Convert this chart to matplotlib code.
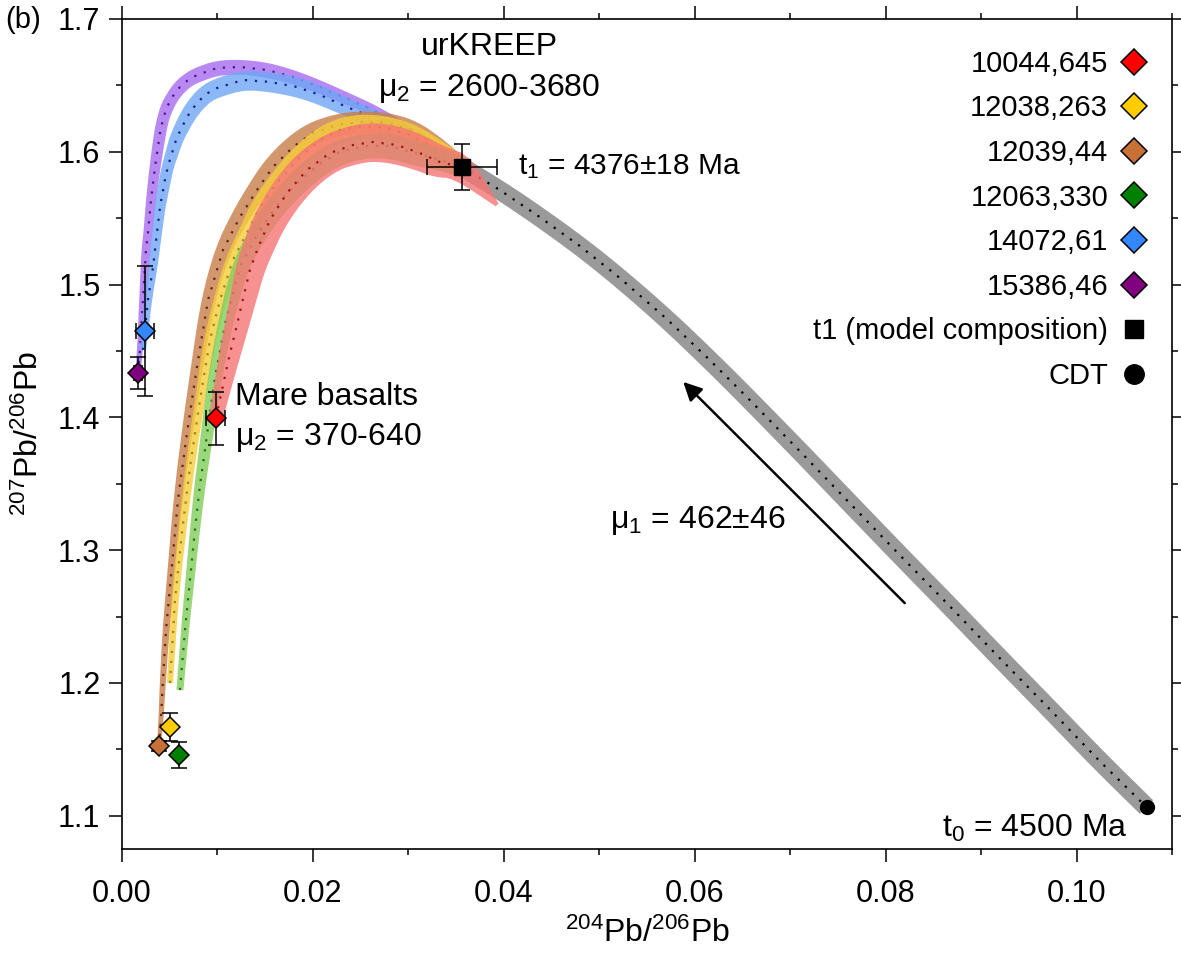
import numpy as np
import matplotlib
matplotlib.use("Agg")
import matplotlib.pyplot as plt
from matplotlib.lines import Line2D
from matplotlib.ticker import MultipleLocator

plt.rcParams["font.family"] = ["Liberation Sans", "DejaVu Sans"]
plt.rcParams["mathtext.fontset"] = "custom"
plt.rcParams["mathtext.rm"] = "Liberation Sans"
plt.rcParams["mathtext.it"] = "Liberation Sans:italic"
plt.rcParams["mathtext.default"] = "regular"

# --- measured samples ---
sample_names = ["10044,645", "12038,263", "12039,44", "12063,330", "14072,61", "15386,46"]
sample_x = [0.00984, 0.00503, 0.00387, 0.00597, 0.00241, 0.00168]
sample_y = [1.3995, 1.1669, 1.1526, 1.1458, 1.4651, 1.4334]
sample_xerr = [0.0010, 0.0, 0.0, 0.0, 0.00094, 0.0004]
sample_yerr = [0.020, 0.0105, 0.004, 0.0095, 0.049, 0.012]
sample_colors = ["#ff0000", "#ffcc00", "#c87137", "#008000", "#3388ff", "#800080"]

# model points
t1_x, t1_y = 0.0356, 1.5886
t1_xerr, t1_yerr = 0.0037, 0.0173
cdt_x, cdt_y = 0.10733, 1.1066

# first stage (t1 -> CDT)
x_stage1 = [0.03560, 0.03958, 0.04346, 0.04796, 0.05215, 0.05707, 0.06157, 0.06545, 0.07099, 0.07623,
            0.08147, 0.08670, 0.09194, 0.09717, 0.10241, 0.10733]
y_stage1 = [1.5886, 1.5712, 1.5524, 1.5291, 1.5050, 1.4741, 1.4432, 1.4154, 1.3747, 1.3355,
            1.2964, 1.2580, 1.2188, 1.1804, 1.1413, 1.1066]

# second stage curves (sample end -> t1)
x_15386 = [0.00168, 0.00188, 0.00209, 0.00230, 0.00251, 0.00272, 0.00304, 0.00346, 0.00398, 0.00430,
           0.00471, 0.00534, 0.00607, 0.00691, 0.00785, 0.00995, 0.01236, 0.01518, 0.01791, 0.02073,
           0.02387, 0.02628, 0.02911, 0.03225, 0.03560]
y_15386 = [1.4334, 1.4508, 1.4756, 1.5012, 1.5261, 1.5389, 1.5637, 1.5886, 1.6142, 1.6247,
           1.6337, 1.6420, 1.6488, 1.6540, 1.6578, 1.6631, 1.6639, 1.6616, 1.6563, 1.6488,
           1.6390, 1.6315, 1.6202, 1.6051, 1.5886]

x_14072 = [0.00220, 0.00241, 0.00272, 0.00325, 0.00366, 0.00398, 0.00450, 0.00482, 0.00524, 0.00566,
           0.00628, 0.00702, 0.00785, 0.00880, 0.00995, 0.01267, 0.01550, 0.01832, 0.02073, 0.02356,
           0.02565, 0.02911, 0.03225, 0.03560]
y_14072 = [1.4508, 1.4651, 1.4884, 1.5133, 1.5389, 1.5584, 1.5788, 1.5893, 1.5991, 1.6089,
           1.6187, 1.6285, 1.6367, 1.6435, 1.6480, 1.6541, 1.6526, 1.6488, 1.6428, 1.6337,
           1.6277, 1.6164, 1.6036, 1.5886]

x_12039 = [0.00387, 0.00408, 0.00429, 0.00461, 0.00524, 0.00586, 0.00681, 0.00785, 0.00901, 0.01058, 0.01236,
           0.01414, 0.01581, 0.01791, 0.02000, 0.02251, 0.02492, 0.02775, 0.03047, 0.03330, 0.03560]
y_12039 = [1.1526, 1.1721, 1.2023, 1.2399, 1.2889, 1.3378, 1.3883, 1.4380, 1.4884, 1.5261, 1.5509,
           1.5712, 1.5886, 1.6036, 1.6142, 1.6202, 1.6224, 1.6217, 1.6164, 1.6029, 1.5886]

x_12038 = [0.00503, 0.00555, 0.00628, 0.00712, 0.00817, 0.00921, 0.01026, 0.01162, 0.01309, 0.01445, 0.01623,
           0.01832, 0.02073, 0.02283, 0.02513, 0.02775, 0.03047, 0.03330, 0.03560]
y_12038 = [1.2000, 1.2625, 1.3130, 1.3627, 1.4131, 1.4583, 1.4884, 1.5185, 1.5389, 1.5584, 1.5765,
           1.5938, 1.6089, 1.6164, 1.6194, 1.6179, 1.6119, 1.5998, 1.5886]

x_12063 = [0.00607, 0.00660, 0.00712, 0.00764, 0.00817, 0.00869, 0.00911, 0.00974, 0.01089, 0.01236, 0.01424,
           0.01602, 0.01812, 0.02052, 0.02283, 0.02545, 0.02806, 0.03099, 0.03351, 0.03560]
y_12063 = [1.1947, 1.2399, 1.2776, 1.3152, 1.3491, 1.3755, 1.3980, 1.4304, 1.4733, 1.5133, 1.5388,
           1.5576, 1.5750, 1.5901, 1.5999, 1.6044, 1.6044, 1.5984, 1.5938, 1.5886]

x_10044 = [0.00984, 0.01047, 0.01120, 0.01204, 0.01277, 0.01340, 0.01424, 0.01550, 0.01728, 0.01937, 0.02178,
           0.02419, 0.02628, 0.02880, 0.03120, 0.03330, 0.03560, 0.03930]
y_10044 = [1.3995, 1.4206, 1.4447, 1.4696, 1.4922, 1.5110, 1.5276, 1.5486, 1.5690, 1.5863, 1.5991,
           1.6051, 1.6074, 1.6051, 1.5991, 1.5923, 1.5886, 1.5600]

# band widths in pixels (style)
w_stage1 = [19] * len(x_stage1)
w_15386 = [5, 6, 7, 8, 9, 9, 10, 11, 12, 12, 13, 13, 14, 14, 15, 15, 15, 15, 14, 13, 12, 11, 10, 9, 8]
w_14072 = [6, 7, 8, 9, 10, 11, 12, 12, 13, 14, 15, 16, 17, 18, 19, 20, 20, 20, 19, 18, 17, 15, 13, 11]
w_12039 = [4, 5, 6, 7, 8, 9, 11, 12, 14, 16, 18, 20, 21, 22, 22, 22, 22, 21, 20, 18, 16]
w_12038 = [6, 7, 8, 9, 10, 12, 13, 15, 17, 19, 20, 22, 23, 24, 24, 24, 23, 21, 19]
w_12063 = [7, 8, 9, 10, 11, 12, 13, 14, 15, 17, 19, 21, 23, 24, 25, 25, 25, 24, 22, 20]
w_10044 = [14, 17, 21, 24, 27, 29, 31, 33, 35, 37, 38, 39, 39, 38, 35, 32, 28, 4]


def soften(p, rounds=2):
    # rounds off the corners of a ribbon edge (drawing only)
    for _ in range(rounds):
        a = 0.75 * p[:-1] + 0.25 * p[1:]
        b = 0.25 * p[:-1] + 0.75 * p[1:]
        mid = np.empty((2 * len(a), 2))
        mid[0::2] = a
        mid[1::2] = b
        p = np.vstack([p[:1], mid, p[-1:]])
    return p


def draw_band(ax, xs, ys, widths, color, alpha, zorder):
    # variable width ribbon built in pixel space around the centre line
    pts = ax.transData.transform(np.column_stack([xs, ys]))
    tang = np.gradient(pts, axis=0)
    norm = np.column_stack([-tang[:, 1], tang[:, 0]])
    norm /= np.linalg.norm(norm, axis=1)[:, None]
    half = np.asarray(widths, dtype=float)[:, None] / 2
    upper = soften(pts + norm * half)
    lower = soften(pts - norm * half)
    poly = np.vstack([upper, lower[::-1]])
    poly = ax.transData.inverted().transform(poly)
    ax.fill(poly[:, 0], poly[:, 1], color=color, alpha=alpha, lw=0, zorder=zorder)


fig = plt.figure(figsize=(11.81, 9.6), dpi=100)
ax = fig.add_axes([122 / 1181, 111 / 960, 1050 / 1181, 830 / 960])
ax.set_xlim(0, 0.11)
ax.set_ylim(1.075, 1.70)

curves = [
    (x_stage1, y_stage1, w_stage1, "#9a9a9a", 1.0, "black", None),
    (x_15386, y_15386, w_15386, "#a66cf0", 0.8, "#4b1a85", None),
    (x_14072, y_14072, w_14072, "#6fa7f6", 0.8, "#12238f", None),
    (x_12039, y_12039, w_12039, "#c97d4a", 0.8, "#5e2a0c", None),
    (x_12038, y_12038, w_12038, "#f6ce38", 0.8, "#9a8526", None),
    (x_12063, y_12063, w_12063, "#81cd59", 0.8, "#256d25", None),
    (x_10044, y_10044, w_10044, "#f67474", 0.8, "#a81212", -1),
]
z = 2
for xs, ys, ws, band_color, alpha, dot_color, stop in curves:
    draw_band(ax, xs, ys, ws, band_color, alpha, z)
    ax.plot(xs[:stop], ys[:stop], color=dot_color, lw=1.6, dashes=(1, 3.5), zorder=z + 0.5)
    z += 1

# error bars and markers
ax.errorbar(sample_x, sample_y, xerr=sample_xerr, yerr=sample_yerr, fmt="none",
            ecolor="black", elinewidth=1.1, capsize=6, capthick=1.1, zorder=20)
ax.errorbar([t1_x], [t1_y], xerr=[t1_xerr], yerr=[t1_yerr], fmt="none",
            ecolor="black", elinewidth=1.1, capsize=6, capthick=1.1, zorder=20)
for sx, sy, c in zip(sample_x, sample_y, sample_colors):
    ax.plot(sx, sy, marker="D", ms=10, mfc=c, mec="black", mew=1.1, ls="none", zorder=21)
ax.plot(t1_x, t1_y, marker="s", ms=11, mfc="black", mec="black", ls="none", zorder=21)
ax.plot(cdt_x, cdt_y, marker="o", ms=10, mfc="black", mec="black", ls="none", zorder=21)

# annotations
ax.text(0.0385, 1.679, "urKREEP", ha="center", va="center", fontsize=23)
ax.text(0.0385, 1.648, "μ$_2$ = 2600-3680", ha="center", va="center", fontsize=23)
ax.text(0.0415, 1.5886, "t$_1$ = 4376±18 Ma", ha="left", va="center", fontsize=21.5)
ax.text(0.01184, 1.4154, "Mare basalts", ha="left", va="center", fontsize=23)
ax.text(0.01184, 1.3852, "μ$_2$ = 370-640", ha="left", va="center", fontsize=23)
ax.text(0.0511, 1.3227, "μ$_1$ = 462±46", ha="left", va="center", fontsize=23)
ax.text(0.1053, 1.0908, "t$_0$ = 4500 Ma", ha="right", va="center", fontsize=23)
ax.annotate("", xy=(0.0588, 1.4267), xytext=(0.0820, 1.2602),
            arrowprops=dict(arrowstyle="-|>", color="black", lw=1.8, mutation_scale=28,
                            shrinkA=0, shrinkB=0))
fig.text(5 / 1181, 1 - 20 / 960, "(b)", ha="left", va="center", fontsize=21)

# legend
handles = [Line2D([], [], marker="D", ls="none", ms=13.5, mfc=c, mec="black", mew=1.1)
           for c in sample_colors]
handles.append(Line2D([], [], marker="s", ls="none", ms=13.5, mfc="black", mec="black"))
handles.append(Line2D([], [], marker="o", ls="none", ms=14, mfc="black", mec="black"))
labels = sample_names + ["t1 (model composition)", "CDT"]
ax.legend(handles, labels, loc="upper right", bbox_to_anchor=(0.978, 0.963),
          markerfirst=False, frameon=False, fontsize=21, labelspacing=0.57,
          handlelength=1.0, handletextpad=0.4, borderpad=0, borderaxespad=0)

# axes cosmetics
ax.xaxis.set_major_locator(MultipleLocator(0.02))
ax.xaxis.set_minor_locator(MultipleLocator(0.01))
ax.yaxis.set_major_locator(MultipleLocator(0.1))
ax.yaxis.set_minor_locator(MultipleLocator(0.05))
ax.xaxis.set_major_formatter(plt.FuncFormatter(lambda v, p: f"{v:.2f}"))
ax.yaxis.set_major_formatter(plt.FuncFormatter(lambda v, p: f"{v:.1f}"))
ax.tick_params(which="both", direction="out", top=True, right=True, width=1.1, labelsize=22)
ax.tick_params(which="major", length=9.5)
ax.tick_params(which="minor", length=4.5)
ax.tick_params(axis="x", pad=12)
ax.tick_params(axis="y", pad=6)
for s in ax.spines.values():
    s.set_linewidth(1.2)

ax.set_xlabel(r"$^{204}$Pb/$^{206}$Pb", fontsize=23)
ax.set_ylabel(r"$^{207}$Pb/$^{206}$Pb", fontsize=23)
ax.xaxis.set_label_coords(0.5, -0.083)
ax.yaxis.set_label_coords(-0.073, 0.5)

fig.savefig("out.png", dpi=100)
